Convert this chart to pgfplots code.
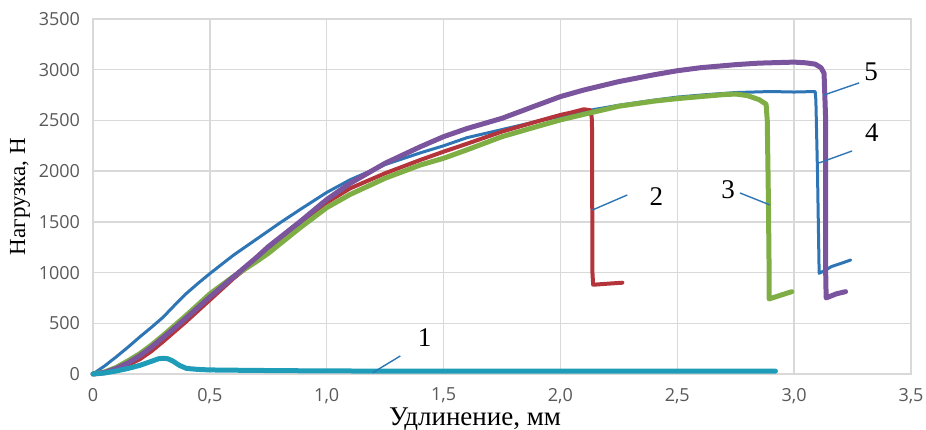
\documentclass[border=0pt]{standalone}
\usepackage{pgfplots}
\pgfplotsset{compat=1.18}
\usepackage{fontspec}
\setmainfont{Liberation Serif}
\newfontfamily\tickfont{Open Sans}
\usetikzlibrary{calc}
\definecolor{cblue}{HTML}{2E75B6}
\definecolor{cred}{HTML}{B3343A}
\definecolor{cgreen}{HTML}{7FAE45}
\definecolor{cpurple}{HTML}{7B549E}
\definecolor{cteal}{HTML}{1F9DB8}
\definecolor{gridgray}{HTML}{D9D9D9}
\definecolor{tickgray}{HTML}{595959}
\begin{document}
\begin{tikzpicture}
\begin{axis}[name=ax, scale only axis, width=409bp, height=177.5bp,
  xmin=0, xmax=3.5, ymin=0, ymax=3500,
  xtick={0,0.5,1,1.5,2,2.5,3,3.5},
  xticklabels={0,{0,5},{1,0},{1,5},{2,0},{2,5},{3,0},{3,5}},
  ytick={0,500,1000,1500,2000,2500,3000,3500},
  yticklabels={0,500,1000,1500,2000,2500,3000,3500},
  grid=major, grid style={draw=gridgray, line width=0.7bp},
  axis line style={draw=gridgray, line width=0.7bp},
  major tick length=0pt,
  ticklabel style={font=\tickfont\fontsize{9bp}{10bp}\selectfont, text=tickgray},
  yticklabel style={anchor=east, xshift=-3bp},
  xticklabel style={anchor=north, yshift=-3.5bp},
  xlabel={Удлинение, мм}, ylabel={Нагрузка, Н},
  every axis x label/.style={at={(axis description cs:0.467,-0.128)}, anchor=center, font=\fontsize{13.5bp}{15bp}\selectfont},
  every axis y label/.style={at={(axis description cs:-0.089,0.5)}, rotate=90, anchor=center, font=\fontsize{11.5bp}{13bp}\selectfont},
  clip=false,
  every axis plot/.append style={line join=round, line cap=round}
]
% 4 (blue)
\addplot[cblue, line width=1.5bp] coordinates {
(0,0) (0.05,80) (0.1,170) (0.15,265) (0.2,365) (0.25,460) (0.3,560) (0.35,680) (0.4,795) (0.45,895) (0.5,990) (0.6,1170) (0.7,1330) (0.75,1410) (0.8,1490) (0.885,1620) (1.0,1790) (1.1,1915) (1.25,2065) (1.4,2180) (1.5,2250) (1.6,2330) (1.75,2410) (1.9,2490) (2.0,2540) (2.15,2610) (2.25,2650) (2.4,2700) (2.5,2730) (2.6,2750) (2.75,2775) (2.9,2785) (3.0,2780) (3.09,2785) (3.093,2700) (3.1,1979) (3.107,993) (3.135,1025) (3.16,1060) (3.2,1090) (3.242,1124)};
% 2 (red)
\addplot[cred, line width=2bp] coordinates {
(0,0) (0.05,10) (0.1,40) (0.15,90) (0.2,145) (0.25,225) (0.3,320) (0.35,420) (0.4,520) (0.5,730) (0.6,940) (0.75,1220) (0.885,1480) (1.0,1690) (1.1,1830) (1.25,1979) (1.4,2110) (1.5,2192) (1.6,2270) (1.75,2390) (1.9,2490) (2.0,2554) (2.05,2580) (2.1,2610) (2.13,2600) (2.135,2500) (2.137,1000) (2.14,880) (2.2,890) (2.265,900)};
% 3 (green)
\addplot[cgreen, line width=2.5bp] coordinates {
(0,0) (0.05,20) (0.1,65) (0.15,130) (0.2,200) (0.25,285) (0.3,380) (0.35,480) (0.4,580) (0.5,790) (0.6,960) (0.7,1110) (0.75,1190) (0.885,1440) (1.0,1640) (1.1,1770) (1.25,1930) (1.4,2060) (1.5,2127) (1.6,2210) (1.75,2340) (1.9,2440) (2.0,2505) (2.1,2560) (2.25,2640) (2.4,2690) (2.5,2715) (2.6,2735) (2.7,2755) (2.75,2760) (2.8,2745) (2.85,2705) (2.88,2660) (2.885,2500) (2.89,1700) (2.893,1000) (2.893,740) (2.94,775) (2.99,812)};
% 5 (purple)
\addplot[cpurple, line width=2.5bp] coordinates {
(0,0) (0.05,15) (0.1,55) (0.15,110) (0.2,180) (0.25,265) (0.3,360) (0.35,455) (0.4,555) (0.5,760) (0.6,955) (0.7,1150) (0.75,1255) (0.885,1500) (1.0,1720) (1.1,1880) (1.25,2078) (1.4,2240) (1.5,2340) (1.6,2420) (1.75,2521) (1.9,2650) (2.0,2735) (2.1,2800) (2.25,2883) (2.4,2950) (2.5,2990) (2.6,3020) (2.75,3050) (2.85,3065) (3.0,3075) (3.05,3068) (3.09,3055) (3.115,3020) (3.128,2965) (3.135,2500) (3.135,1000) (3.137,750) (3.18,790) (3.22,812)};
% 1 (teal)
\addplot[cteal, line width=2.5bp] coordinates {
(0,0) (0.05,10) (0.1,30) (0.15,55) (0.2,85) (0.25,125) (0.28,150) (0.3,155) (0.32,150) (0.34,130) (0.37,85) (0.4,55) (0.45,45) (0.5,40) (0.7,35) (1.0,30) (1.5,28) (2.0,28) (2.5,28) (2.92,28)};
% annotations
\draw[cblue, line width=0.7bp] (axis cs:1.197,13) -- (axis cs:1.315,178);
\draw[cblue, line width=0.7bp] (axis cs:2.137,1617) -- (axis cs:2.286,1765);
\draw[cblue, line width=0.7bp] (axis cs:2.896,1667) -- (axis cs:2.768,1785);
\draw[cblue, line width=0.7bp] (axis cs:3.107,2081) -- (axis cs:3.248,2199);
\draw[cblue, line width=0.7bp] (axis cs:3.128,2751) -- (axis cs:3.278,2870);
\node[font=\fontsize{13.5bp}{15bp}\selectfont] at (axis cs:1.419,355) {1};
\node[font=\fontsize{13.5bp}{15bp}\selectfont] at (axis cs:2.41,1746) {2};
\node[font=\fontsize{13.5bp}{15bp}\selectfont] at (axis cs:2.718,1815) {3};
\node[font=\fontsize{13.5bp}{15bp}\selectfont] at (axis cs:3.333,2377) {4};
\node[font=\fontsize{13.5bp}{15bp}\selectfont] at (axis cs:3.329,2978) {5};
\end{axis}
\pgfresetboundingbox
\path[use as bounding box] ($(ax.south west)+(-46.5bp,-28bp)$) rectangle ($(ax.north east)+(7.5bp,9.5bp)$);
\end{tikzpicture}
\end{document}
